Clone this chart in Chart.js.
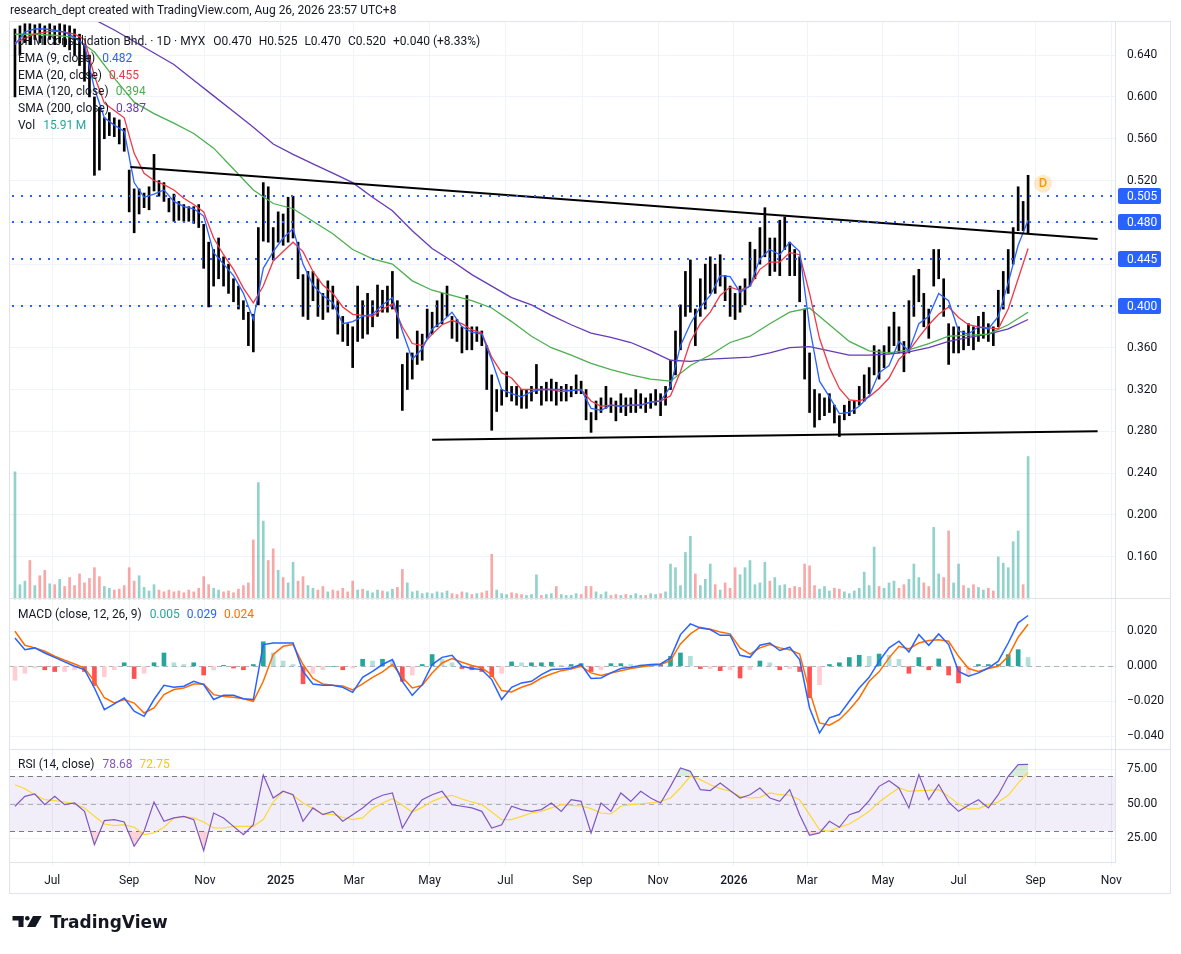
<!DOCTYPE html>
<html>
<head>
<meta charset="utf-8">
<title>JHM Consolidation Bhd. 1D</title>
<script src="https://cdn.jsdelivr.net/npm/chart.js@4.4.1/dist/chart.umd.min.js"></script>
<style>
  html, body { margin: 0; padding: 0; background: #ffffff; }
  #chart { display: block; }
</style>
</head>
<body>
<canvas id="chart" width="1181" height="954"></canvas>
<script>
// price bars, sampled every 4 calendar days from the first visible bar
const barStart = '2024-06-01';
const barStep = 4;
const highs = [
  0.665,0.668,0.670,0.670,0.669,0.670,0.668,0.670,0.668,0.670,
  0.669,0.668,0.665,0.660,0.650,0.640,0.600,0.590,0.580,0.585,
  0.580,0.578,0.570,0.530,0.512,0.512,0.508,0.514,0.545,0.520,
  0.518,0.503,0.507,0.500,0.497,0.495,0.495,0.497,0.478,0.461,
  0.454,0.465,0.447,0.440,0.426,0.419,0.405,0.394,0.392,0.475,
  0.518,0.514,0.475,0.490,0.488,0.504,0.505,0.461,0.430,0.433,
  0.433,0.426,0.412,0.424,0.419,0.405,0.390,0.383,0.380,0.419,
  0.405,0.412,0.405,0.420,0.415,0.419,0.433,0.405,0.344,0.355,
  0.355,0.376,0.373,0.397,0.394,0.405,0.412,0.419,0.390,0.387,
  0.380,0.410,0.380,0.380,0.376,0.362,0.334,0.320,0.320,0.337,
  0.323,0.323,0.320,0.320,0.323,0.344,0.323,0.327,0.330,0.327,
  0.323,0.325,0.323,0.334,0.328,0.320,0.298,0.309,0.312,0.323,
  0.312,0.309,0.316,0.312,0.312,0.320,0.316,0.312,0.316,0.320,
  0.316,0.323,0.348,0.376,0.401,0.433,0.444,0.397,0.426,0.440,
  0.447,0.440,0.449,0.429,0.419,0.412,0.419,0.426,0.461,0.454,
  0.475,0.494,0.465,0.465,0.482,0.485,0.461,0.454,0.447,0.397,
  0.355,0.320,0.316,0.312,0.316,0.305,0.295,0.305,0.309,0.309,
  0.323,0.334,0.341,0.362,0.358,0.362,0.380,0.394,0.380,0.366,
  0.405,0.429,0.435,0.412,0.397,0.454,0.454,0.426,0.383,0.380,
  0.380,0.376,0.383,0.380,0.390,0.394,0.383,0.380,0.415,0.433,
  0.454,0.475,0.514,0.500,0.525
];
const lows = [
  0.600,0.640,0.652,0.650,0.655,0.652,0.650,0.655,0.650,0.652,
  0.648,0.645,0.640,0.630,0.615,0.600,0.525,0.530,0.560,0.563,
  0.562,0.555,0.548,0.490,0.470,0.488,0.494,0.492,0.510,0.505,
  0.500,0.490,0.481,0.482,0.481,0.481,0.479,0.475,0.436,0.399,
  0.419,0.426,0.419,0.412,0.404,0.397,0.387,0.362,0.356,0.401,
  0.462,0.461,0.444,0.461,0.458,0.461,0.465,0.426,0.390,0.387,
  0.405,0.390,0.387,0.394,0.397,0.373,0.366,0.362,0.341,0.366,
  0.369,0.373,0.380,0.390,0.394,0.394,0.397,0.369,0.300,0.320,
  0.330,0.344,0.348,0.369,0.373,0.380,0.383,0.390,0.369,0.366,
  0.355,0.358,0.358,0.366,0.362,0.320,0.281,0.299,0.305,0.313,
  0.309,0.305,0.302,0.302,0.309,0.316,0.305,0.309,0.309,0.305,
  0.309,0.309,0.313,0.316,0.316,0.291,0.279,0.291,0.298,0.302,
  0.298,0.290,0.298,0.295,0.298,0.298,0.302,0.298,0.302,0.305,
  0.295,0.305,0.320,0.334,0.358,0.390,0.394,0.362,0.390,0.397,
  0.412,0.412,0.419,0.405,0.390,0.387,0.394,0.401,0.419,0.426,
  0.440,0.447,0.429,0.433,0.429,0.454,0.429,0.429,0.404,0.330,
  0.298,0.284,0.291,0.295,0.298,0.288,0.275,0.291,0.295,0.297,
  0.305,0.309,0.316,0.334,0.330,0.341,0.355,0.362,0.355,0.337,
  0.355,0.390,0.404,0.380,0.369,0.419,0.426,0.390,0.344,0.355,
  0.355,0.358,0.362,0.358,0.366,0.369,0.366,0.362,0.380,0.397,
  0.412,0.440,0.472,0.472,0.470
];
// volume in millions of shares, same sampling as the bars
const volumes = [
  14.2,1.6,2.0,4.3,1.5,2.6,3.2,1.7,1.6,2.2,
  1.4,2.4,1.5,2.8,1.8,2.3,3.5,2.5,1.4,1.2,
  1.0,1.1,1.5,3.5,2.0,2.6,1.3,0.9,1.6,1.0,
  0.8,1.0,0.8,0.9,0.7,1.0,0.8,1.2,2.5,1.6,
  1.2,1.0,0.8,0.9,0.7,1.1,1.5,1.8,6.6,13.0,
  8.7,4.3,5.6,3.2,2.4,1.8,4.1,2.0,2.5,1.5,
  1.2,1.0,1.4,0.8,1.0,0.9,1.2,0.8,2.0,1.0,
  1.1,0.9,0.7,1.0,0.9,0.8,1.1,1.3,3.3,1.8,
  0.8,0.9,0.6,0.7,0.6,0.8,0.7,0.9,0.6,0.5,
  0.8,0.7,0.5,0.6,0.7,0.9,5.0,1.0,0.6,0.5,
  0.7,0.6,0.5,0.4,0.5,2.7,0.4,0.5,0.6,1.4,
  0.5,0.4,0.4,0.6,0.5,1.4,1.4,0.8,0.5,0.8,
  0.4,0.5,0.4,0.5,0.4,0.6,0.4,0.4,0.6,0.5,
  0.6,0.8,3.9,3.5,1.5,5.2,7.0,2.8,1.5,2.2,
  3.9,1.6,1.0,1.8,1.2,3.5,2.7,3.5,4.3,1.6,
  1.8,4.1,2.0,2.4,1.5,1.6,1.2,1.4,1.3,3.9,
  3.7,1.5,1.1,1.4,0.9,1.2,1.1,0.8,0.6,0.9,
  1.2,3.0,1.5,5.8,1.4,1.2,1.8,2.0,1.2,1.6,
  2.2,3.9,2.4,1.8,1.4,8.0,2.8,2.4,7.6,1.8,
  3.9,1.5,1.2,1.6,1.3,1.0,1.2,0.9,4.7,4.0,
  3.5,6.4,7.6,1.6,15.91
];

// indicator lines, sampled every 8 days
const lineStart = '2024-06-01';
const lineStep = 8;
const ema9 = [
  0.650,0.662,0.665,0.665,0.664,0.662,0.657,0.650,0.608,0.580,
  0.573,0.567,0.518,0.504,0.507,0.511,0.500,0.495,0.493,0.486,
  0.451,0.440,0.429,0.412,0.387,0.436,0.452,0.465,0.474,0.440,
  0.420,0.410,0.403,0.383,0.385,0.390,0.392,0.401,0.408,0.376,
  0.349,0.359,0.378,0.385,0.394,0.380,0.375,0.373,0.348,0.320,
  0.316,0.313,0.318,0.320,0.320,0.320,0.319,0.320,0.302,0.300,
  0.305,0.304,0.305,0.305,0.308,0.309,0.323,0.362,0.383,0.399,
  0.410,0.429,0.428,0.413,0.419,0.445,0.454,0.449,0.461,0.452,
  0.380,0.328,0.313,0.297,0.298,0.304,0.314,0.336,0.343,0.366,
  0.357,0.383,0.390,0.412,0.405,0.376,0.373,0.380,0.378,0.390,
  0.422,0.458,0.482
];
const ema20 = [
  0.652,0.656,0.660,0.662,0.663,0.662,0.660,0.655,0.620,0.594,
  0.587,0.580,0.546,0.527,0.520,0.516,0.511,0.503,0.497,0.490,
  0.465,0.449,0.435,0.417,0.403,0.419,0.443,0.452,0.461,0.452,
  0.433,0.420,0.412,0.399,0.392,0.391,0.390,0.397,0.402,0.380,
  0.364,0.362,0.373,0.382,0.386,0.383,0.377,0.374,0.351,0.336,
  0.331,0.320,0.320,0.320,0.320,0.318,0.319,0.320,0.309,0.304,
  0.305,0.304,0.305,0.305,0.308,0.309,0.314,0.337,0.366,0.383,
  0.394,0.410,0.418,0.415,0.419,0.435,0.442,0.442,0.451,0.449,
  0.412,0.369,0.341,0.321,0.310,0.309,0.313,0.321,0.331,0.349,
  0.357,0.370,0.382,0.392,0.399,0.389,0.382,0.380,0.379,0.378,
  0.397,0.426,0.455
];
const macdLine = [
  0.0162,0.0095,0.0105,0.0076,0.0051,0.0025,0.0000,-0.0019,-0.0124,-0.0248,
  -0.0215,-0.0181,-0.0257,-0.0286,-0.0190,-0.0109,-0.0120,-0.0114,-0.0086,-0.0105,
  -0.0190,-0.0166,-0.0166,-0.0185,-0.0190,0.0124,0.0133,0.0133,0.0133,-0.0029,
  -0.0101,-0.0109,-0.0109,-0.0120,-0.0149,-0.0063,-0.0029,0.0010,0.0038,-0.0086,
  -0.0166,-0.0105,0.0010,0.0051,0.0063,0.0000,-0.0013,-0.0019,-0.0076,-0.0190,
  -0.0120,-0.0095,-0.0086,-0.0048,-0.0019,-0.0015,-0.0010,0.0010,-0.0070,-0.0067,
  -0.0038,-0.0013,-0.0006,0.0004,0.0010,0.0013,0.0048,0.0181,0.0242,0.0219,
  0.0210,0.0177,0.0177,0.0063,0.0051,0.0120,0.0133,0.0090,0.0109,0.0038,
  -0.0238,-0.0381,-0.0295,-0.0276,-0.0200,-0.0124,-0.0063,0.0029,0.0105,0.0143,
  0.0082,0.0181,0.0120,0.0185,0.0124,-0.0029,-0.0057,-0.0038,-0.0010,0.0029,
  0.0133,0.0248,0.0290
];
const signalLine = [
  0.0200,0.0120,0.0105,0.0086,0.0057,0.0034,0.0013,-0.0010,-0.0086,-0.0180,
  -0.0210,-0.0190,-0.0210,-0.0267,-0.0238,-0.0162,-0.0133,-0.0124,-0.0101,-0.0101,
  -0.0162,-0.0173,-0.0177,-0.0185,-0.0200,-0.0086,0.0067,0.0114,0.0124,0.0010,
  -0.0070,-0.0101,-0.0109,-0.0112,-0.0135,-0.0101,-0.0063,-0.0032,0.0010,-0.0063,
  -0.0124,-0.0109,-0.0038,0.0019,0.0044,0.0023,0.0004,-0.0010,-0.0048,-0.0139,
  -0.0147,-0.0120,-0.0101,-0.0067,-0.0044,-0.0025,-0.0015,0.0000,-0.0038,-0.0053,
  -0.0038,-0.0025,-0.0013,-0.0004,0.0004,0.0010,0.0032,0.0128,0.0185,0.0223,
  0.0211,0.0196,0.0185,0.0105,0.0070,0.0105,0.0124,0.0105,0.0095,0.0070,
  -0.0143,-0.0324,-0.0337,-0.0305,-0.0248,-0.0181,-0.0086,-0.0032,0.0048,0.0114,
  0.0099,0.0133,0.0147,0.0152,0.0143,0.0057,-0.0013,-0.0029,-0.0013,0.0000,
  0.0057,0.0166,0.0240
];
const macdHist = [
  -0.0080,-0.0040,-0.0010,-0.0020,-0.0030,-0.0030,-0.0020,-0.0030,-0.0110,-0.0060,
  -0.0020,0.0020,-0.0070,-0.0040,0.0020,0.0076,0.0020,0.0010,0.0020,-0.0050,
  -0.0020,0.0005,-0.0010,-0.0020,0.0010,0.0140,0.0076,0.0030,0.0010,-0.0100,
  -0.0040,-0.0020,0.0000,-0.0020,-0.0010,0.0040,0.0030,0.0040,0.0030,-0.0086,
  -0.0050,0.0010,0.0067,0.0040,0.0020,-0.0013,-0.0020,-0.0030,-0.0060,-0.0040,
  0.0025,0.0020,0.0020,0.0020,0.0023,0.0005,0.0010,0.0015,-0.0030,-0.0020,
  0.0015,0.0015,0.0010,0.0008,0.0005,0.0010,0.0057,0.0076,0.0057,-0.0013,
  -0.0013,-0.0025,-0.0020,-0.0067,-0.0020,0.0030,0.0020,-0.0020,-0.0013,-0.0030,
  -0.0180,-0.0105,0.0010,0.0020,0.0050,0.0063,0.0057,0.0070,0.0063,0.0040,
  -0.0040,0.0050,-0.0020,0.0042,-0.0050,-0.0095,-0.0050,0.0010,0.0010,0.0010,
  0.0067,0.0095,0.0050
];
const rsi = [
  48.2,55.4,57.1,49.4,55.4,49.4,50.6,44.5,20.3,37.8,
  38.5,36.8,19.1,30.0,51.3,37.3,39.7,40.9,38.5,16.0,
  43.3,39.7,33.6,27.6,34.8,71.0,54.2,59.1,56.6,37.3,
  47.0,42.1,44.5,37.3,42.1,47.0,53.0,56.2,57.9,32.4,
  44.5,53.0,56.6,59.1,49.4,48.2,47.0,44.5,32.4,34.8,
  48.2,45.8,44.5,45.8,50.6,44.5,53.0,51.8,28.8,50.6,
  44.5,57.9,51.8,59.1,54.2,50.6,62.7,76.0,73.6,60.3,
  59.6,65.1,59.6,54.2,56.6,61.5,54.2,51.8,60.3,42.1,
  27.1,28.8,37.3,32.9,42.1,44.5,52.3,62.7,66.8,61.5,
  47.0,71.2,53.0,64.0,51.3,44.5,48.9,53.0,47.0,56.6,
  70.0,78.5,78.68
];
const rsiMa = [
  63.9,61.0,56.6,53.0,52.3,51.3,50.1,47.0,40.9,35.3,
  34.1,34.8,32.9,27.6,28.8,32.9,39.7,40.6,39.7,36.8,
  32.4,32.4,33.6,33.6,33.6,38.5,51.3,59.1,56.2,50.6,
  46.5,42.6,42.1,40.2,38.5,39.7,46.5,50.6,53.7,48.9,
  44.0,47.4,51.8,54.7,56.2,53.5,51.3,49.4,44.0,38.5,
  38.5,40.9,43.3,44.5,47.0,49.4,48.9,48.4,46.5,43.3,
  42.6,48.2,49.4,49.9,50.6,51.8,54.2,61.5,70.0,67.6,
  63.9,61.0,59.1,55.4,54.2,54.7,57.9,56.6,56.2,53.0,
  42.1,31.2,30.0,32.9,35.3,39.7,44.5,51.3,56.6,61.5,
  59.1,59.6,59.8,60.3,55.4,49.9,46.2,46.5,49.4,51.3,
  56.2,65.1,72.75
];

// slow averages, sampled every 16 days
const slowStep = 16;
const ema120 = [
  0.660,0.660,0.659,0.657,0.643,0.618,0.595,0.584,0.575,0.565,
  0.551,0.531,0.511,0.498,0.493,0.481,0.469,0.454,0.445,0.440,
  0.424,0.415,0.410,0.405,0.398,0.385,0.371,0.360,0.353,0.345,
  0.339,0.334,0.330,0.328,0.343,0.353,0.365,0.371,0.383,0.394,
  0.398,0.382,0.366,0.357,0.355,0.358,0.364,0.371,0.372,0.373,
  0.382,0.394
];
const sma200 = [
  0.705,0.698,0.690,0.682,0.674,0.664,0.653,0.642,0.631,0.616,
  0.601,0.586,0.571,0.555,0.545,0.536,0.527,0.518,0.504,0.491,
  0.472,0.455,0.443,0.430,0.419,0.408,0.401,0.391,0.382,0.374,
  0.370,0.365,0.357,0.348,0.347,0.349,0.350,0.351,0.355,0.360,
  0.361,0.357,0.353,0.353,0.354,0.356,0.360,0.366,0.370,0.373,
  0.378,0.387
];

const priceTicks = [0.16, 0.20, 0.24, 0.28, 0.32, 0.36, 0.40, 0.44, 0.48, 0.52, 0.56, 0.60, 0.64];
const macdTicks = [0.02, 0, -0.02, -0.04];
const rsiTicks = [25, 50, 75];
const keyLevels = [0.505, 0.480, 0.445, 0.400];
const monthDates = ['2024-07-01','2024-09-01','2024-11-01','2025-01-01','2025-03-01','2025-05-01','2025-07-01',
  '2025-09-01','2025-11-01','2026-01-01','2026-03-01','2026-05-01','2026-07-01','2026-09-01','2026-11-01'];
const monthLabels = ['Jul','Sep','Nov','2025','Mar','May','Jul','Sep','Nov','2026','Mar','May','Jul','Sep','Nov'];
const resistanceLine = [['2024-09-02', 0.533], ['2026-10-21', 0.464]];
const supportLine = [['2025-05-03', 0.272], ['2026-10-21', 0.280]];
const dividendMark = ['2026-09-07', 0.517];

const FONT = 'Roboto, "Noto Sans", sans-serif';
const TEXT = '#131722';

const DAY0 = Date.UTC(2024, 6, 1);
function dayOf(s) {
  const [y, m, d] = s.split('-').map(Number);
  return (Date.UTC(y, m - 1, d) - DAY0) / 86400000;
}
function series(start, step, values) {
  const d0 = dayOf(start);
  return values.map((v, i) => ({ x: d0 + i * step, y: v }));
}

const bars = highs.map((h, i) => ({ x: dayOf(barStart) + i * barStep, y: [lows[i], h] }));
const volData = series(barStart, barStep, volumes);
const volColors = highs.map((h, i) => {
  if (i === 0) return 'rgba(38,166,154,0.5)';
  const mid = (h + lows[i]) / 2, prev = (highs[i - 1] + lows[i - 1]) / 2;
  return mid >= prev ? 'rgba(38,166,154,0.5)' : 'rgba(239,83,80,0.5)';
});
const histColors = macdHist.map((v, i) => {
  const prev = i > 0 ? macdHist[i - 1] : v;
  if (v >= 0) return v >= prev ? '#26a69a' : '#b2dfdb';
  return v >= prev ? '#ffcdd2' : '#ff5252';
});

const lineDefaults = { type: 'line', pointRadius: 0, borderWidth: 1.3, tension: 0, fill: false };

const tvPlugin = {
  id: 'tv',
  beforeDraw(chart) {
    const ctx = chart.ctx;
    ctx.save();
    ctx.fillStyle = '#ffffff';
    ctx.fillRect(0, 0, chart.width, chart.height);
    ctx.restore();
  },
  beforeDatasetsDraw(chart) {
    const { ctx, chartArea: a, scales } = chart;
    const r = scales.yr, m = scales.ym;
    ctx.save();
    const y70 = r.getPixelForValue(70), y30 = r.getPixelForValue(30), y50 = r.getPixelForValue(50);
    ctx.fillStyle = 'rgba(126,87,194,0.1)';
    ctx.fillRect(a.left, y70, a.right - a.left, y30 - y70);
    ctx.lineWidth = 1;
    ctx.setLineDash([5, 4]);
    ctx.strokeStyle = '#787b86';
    [y70, y30].forEach(y => {
      ctx.beginPath(); ctx.moveTo(a.left, Math.round(y) + 0.5); ctx.lineTo(a.right, Math.round(y) + 0.5); ctx.stroke();
    });
    ctx.strokeStyle = 'rgba(120,123,134,0.55)';
    ctx.beginPath(); ctx.moveTo(a.left, Math.round(y50) + 0.5); ctx.lineTo(a.right, Math.round(y50) + 0.5); ctx.stroke();
    const y0 = m.getPixelForValue(0);
    ctx.beginPath(); ctx.moveTo(a.left, Math.round(y0) + 0.5); ctx.lineTo(a.right, Math.round(y0) + 0.5); ctx.stroke();
    ctx.restore();
  },
  afterDatasetsDraw(chart) {
    const { ctx, chartArea: a, scales } = chart;
    const p = scales.y, x = scales.x;
    ctx.save();
    // dotted horizontal levels
    ctx.strokeStyle = '#2962ff';
    ctx.lineWidth = 2;
    ctx.setLineDash([2, 7]);
    keyLevels.forEach(v => {
      const y = Math.round(p.getPixelForValue(v));
      ctx.beginPath(); ctx.moveTo(a.left + 2, y); ctx.lineTo(a.right, y); ctx.stroke();
    });
    ctx.setLineDash([]);
    // dividend marker
    const dx = x.getPixelForValue(dayOf(dividendMark[0])), dy = p.getPixelForValue(dividendMark[1]);
    ctx.fillStyle = 'rgba(255,152,0,0.2)';
    ctx.beginPath(); ctx.arc(dx, dy, 9, 0, Math.PI * 2); ctx.fill();
    ctx.fillStyle = '#ff9800';
    ctx.font = '500 13px ' + FONT;
    ctx.textAlign = 'center'; ctx.textBaseline = 'middle';
    ctx.fillText('D', dx, dy + 0.5);

    // legends
    ctx.textAlign = 'left';
    ctx.font = '12px ' + FONT;
    const row = (x0, y, parts) => {
      let cx = x0;
      parts.forEach(([t, c, g]) => {
        ctx.fillStyle = c;
        ctx.fillText(t, cx, y);
        cx += ctx.measureText(t).width + (g === undefined ? 7 : g);
      });
    };
    row(18, 42, [['JHM Consolidation Bhd. · 1D · MYX', TEXT, 8], ['O0.470', TEXT, 7], ['H0.525', TEXT, 7],
      ['L0.470', TEXT, 7], ['C0.520', TEXT, 7], ['+0.040 (+8.33%)', TEXT]]);
    row(18, 59, [['EMA (9, close)', TEXT], ['0.482', '#2962ff']]);
    row(18, 76, [['EMA (20, close)', TEXT], ['0.455', '#f23645']]);
    row(18, 92, [['EMA (120, close)', TEXT], ['0.394', '#4caf50']]);
    row(18, 109, [['SMA (200, close)', TEXT], ['0.387', '#673ab7']]);
    row(18, 126, [['Vol', TEXT, 8], ['15.91\u2009M', '#26a69a']]);
    const ym = scales.ym.top + 16.5, yr = scales.yr.top + 16;
    row(18, ym, [['MACD (close, 12, 26, 9)', TEXT, 8], ['0.005', '#26a69a'], ['0.029', '#2962ff'], ['0.024', '#ff6d00']]);
    row(18, yr, [['RSI (14, close)', TEXT, 8], ['78.68', '#7e57c2'], ['72.75', '#f9c80e']]);
    ctx.restore();
  },
  afterDraw(chart) {
    const { ctx, chartArea: a, scales } = chart;
    const p = scales.y;
    ctx.save();
    // pane separators and frame
    ctx.strokeStyle = '#e0e3eb';
    ctx.lineWidth = 1;
    [scales.ym.top, scales.yr.top].forEach(y => {
      const yy = Math.round(y) + 0.5;
      ctx.beginPath(); ctx.moveTo(a.left, yy); ctx.lineTo(1170, yy); ctx.stroke();
    });
    ctx.strokeRect(9.5, 21.5, 1161, 872);
    // value boxes on the price axis
    ctx.font = '12px ' + FONT;
    ctx.textBaseline = 'middle';
    ctx.textAlign = 'left';
    keyLevels.forEach(v => {
      const y = Math.round(p.getPixelForValue(v));
      ctx.fillStyle = '#2962ff';
      ctx.beginPath();
      ctx.roundRect(a.right + 3, y - 8, 43, 16, 2);
      ctx.fill();
      ctx.fillStyle = '#ffffff';
      ctx.fillText(v.toFixed(3), a.right + 12, y + 0.5);
    });
    // header
    ctx.fillStyle = TEXT;
    ctx.font = '12px ' + FONT;
    ctx.fillText('research_dept created with TradingView.com, Aug 26, 2026 23:57 UTC+8', 10, 11);
    // TradingView logo
    ctx.fillStyle = TEXT;
    ctx.fillRect(12.5, 916, 11, 4.5);
    ctx.fillRect(18.5, 916, 5, 11);
    ctx.beginPath(); ctx.arc(27.3, 918.3, 2.3, 0, Math.PI * 2); ctx.fill();
    ctx.beginPath();
    ctx.moveTo(33, 916); ctx.lineTo(41.7, 916); ctx.lineTo(35.5, 927); ctx.lineTo(27, 927);
    ctx.closePath(); ctx.fill();
    ctx.font = 'bold 17px "DejaVu Sans", ' + FONT;
    ctx.textBaseline = 'alphabetic';
    ctx.fillText('TradingView', 50, 927.5);
    ctx.restore();
  }
};

const paneAxis = {
  type: 'linear', position: 'right', stack: 'panes', offset: false,
  grid: { color: '#f0f3fa', drawTicks: false },
  border: { display: true, color: '#e0e3eb' },
  afterFit: s => { s.width = 55; }
};

new Chart(document.getElementById('chart'), {
  type: 'line',
  data: {
    datasets: [
      { ...lineDefaults, label: 'resistance', data: resistanceLine.map(([d, v]) => ({ x: dayOf(d), y: v })),
        borderColor: '#000000', borderWidth: 2, yAxisID: 'y', order: 0 },
      { ...lineDefaults, label: 'support', data: supportLine.map(([d, v]) => ({ x: dayOf(d), y: v })),
        borderColor: '#000000', borderWidth: 2, yAxisID: 'y', order: 0 },
      { ...lineDefaults, label: 'EMA 9', data: series(lineStart, lineStep, ema9), borderColor: '#2962ff', yAxisID: 'y', order: 1 },
      { ...lineDefaults, label: 'EMA 20', data: series(lineStart, lineStep, ema20), borderColor: '#f23645', yAxisID: 'y', order: 2 },
      { ...lineDefaults, label: 'EMA 120', data: series(lineStart, slowStep, ema120), borderColor: '#4caf50', yAxisID: 'y', order: 3 },
      { ...lineDefaults, label: 'SMA 200', data: series(lineStart, slowStep, sma200), borderColor: '#673ab7', yAxisID: 'y', order: 4 },
      { type: 'bar', label: 'price', data: bars, backgroundColor: '#000000', barThickness: 2, grouped: false,
        yAxisID: 'y', order: 5 },
      { type: 'bar', label: 'volume', data: volData, backgroundColor: volColors, barThickness: 2, grouped: false,
        yAxisID: 'yv', order: 6 },
      { ...lineDefaults, label: 'MACD', data: series(lineStart, lineStep, macdLine), borderColor: '#2962ff', borderWidth: 1.5, yAxisID: 'ym', order: 1 },
      { ...lineDefaults, label: 'Signal', data: series(lineStart, lineStep, signalLine), borderColor: '#ff6d00', borderWidth: 1.5, yAxisID: 'ym', order: 2 },
      { type: 'bar', label: 'Histogram', data: series(lineStart, lineStep, macdHist), backgroundColor: histColors,
        barThickness: 4, grouped: false, yAxisID: 'ym', order: 3 },
      { ...lineDefaults, label: 'RSI', data: series(lineStart, lineStep, rsi), borderColor: '#7e57c2', borderWidth: 1.2, yAxisID: 'yr', order: 1 },
      { ...lineDefaults, label: 'RSI MA', data: series(lineStart, lineStep, rsiMa), borderColor: '#fdd835', borderWidth: 1.2, yAxisID: 'yr', order: 2 },
      { ...lineDefaults, label: 'overbought', data: series(lineStart, lineStep, rsi), borderWidth: 0, borderColor: 'rgba(0,0,0,0)',
        fill: { target: { value: 70 }, above: 'rgba(76,175,80,0.22)', below: 'rgba(0,0,0,0)' }, yAxisID: 'yr', order: 3 },
      { ...lineDefaults, label: 'oversold', data: series(lineStart, lineStep, rsi), borderWidth: 0, borderColor: 'rgba(0,0,0,0)',
        fill: { target: { value: 30 }, above: 'rgba(0,0,0,0)', below: 'rgba(242,54,69,0.22)' }, yAxisID: 'yr', order: 3 }
    ]
  },
  options: {
    responsive: false,
    animation: false,
    devicePixelRatio: 1,
    layout: { padding: { left: 10, right: 11, top: 22, bottom: 61 } },
    plugins: { legend: { display: false }, tooltip: { enabled: false } },
    scales: {
      x: {
        type: 'linear', min: -34, max: 856, offset: false,
        afterBuildTicks: s => { s.ticks = monthDates.map(d => ({ value: dayOf(d) })); },
        ticks: {
          autoSkip: false, maxRotation: 0, padding: 8, color: TEXT,
          font: c => ({ family: FONT, size: 12, weight: /^\d{4}$/.test(monthLabels[c.index] || '') ? '500' : '400' }),
          callback: (v, i) => monthLabels[i]
        },
        grid: { color: '#f0f3fa', tickLength: 4, offset: false },
        border: { display: true, color: '#e0e3eb' },
        afterFit: s => { s.height = 31; }
      },
      y: {
        ...paneAxis, stackWeight: 576, min: 0.1205, max: 0.6717,
        afterBuildTicks: s => { s.ticks = priceTicks.map(v => ({ value: v })); },
        ticks: { color: TEXT, padding: 12, font: { family: FONT, size: 12 }, callback: v => v.toFixed(3) }
      },
      ym: {
        ...paneAxis, stackWeight: 151, min: -0.04726, max: 0.0390,
        afterBuildTicks: s => { s.ticks = macdTicks.map(v => ({ value: v })); },
        ticks: { color: TEXT, padding: 12, font: { family: FONT, size: 12 },
          callback: v => (v < 0 ? '\u2212' : '') + Math.abs(v).toFixed(3) }
      },
      yr: {
        ...paneAxis, stackWeight: 113, min: 7.67, max: 89.85,
        afterBuildTicks: s => { s.ticks = rsiTicks.map(v => ({ value: v })); },
        ticks: { color: TEXT, padding: 12, font: { family: FONT, size: 12 }, callback: v => v.toFixed(2) }
      },
      yv: { type: 'linear', display: false, position: 'left', min: -29.36, max: 64.42 }
    }
  },
  plugins: [tvPlugin]
});
</script>
</body>
</html>
